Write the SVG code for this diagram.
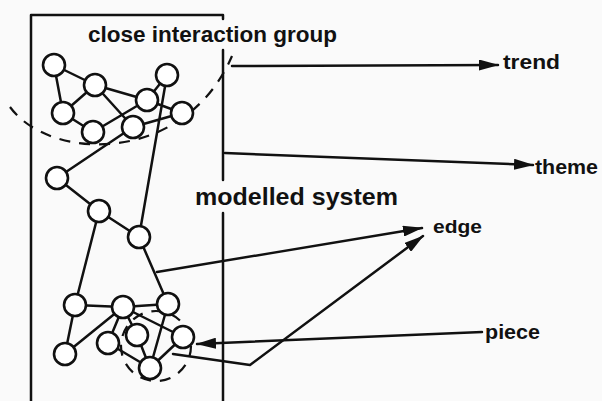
<svg xmlns="http://www.w3.org/2000/svg" width="602" height="401" viewBox="0 0 602 401">
<defs>
<style>
.ln{stroke:#111;stroke-width:2.5;fill:none;stroke-linecap:round;stroke-linejoin:round}
.nd{stroke:#111;stroke-width:2.6;fill:#fff}
.ds{stroke:#111;stroke-width:2.2;fill:none;stroke-dasharray:11 9}
.tx{font-family:"Liberation Sans",Arial,sans-serif;font-weight:bold;fill:#111}
</style>
<marker id="ah" viewBox="0 0 20 11" refX="19" refY="5.5" markerWidth="20" markerHeight="11" markerUnits="userSpaceOnUse" orient="auto">
<path d="M0,0 L20,5.5 L0,11 Z" fill="#111"/>
</marker>
</defs>
<rect width="602" height="401" fill="#fafafa"/>
<g id="frame">
<path class="ln" d="M31,401 V15 H223 V19"/>
<path class="ln" d="M223,50 V180"/>
<path class="ln" d="M223,213 V401"/>
<path class="ds" d="M10,107 C50,162 185,165 232,56"/>
<circle class="ds" cx="156" cy="346" r="35" stroke-dasharray="10 7"/>
</g>
<g id="connectors">
<path class="ln" d="M54,65 L95,85 M54,65 L63,113 M95,85 L63,113 M95,85 L147,100 M95,85 L133,127 M63,113 L93,132 M147,100 L93,132 M167,75 L147,100 M167,75 L139,237 M147,100 L182,113 M133,127 L182,113 M57,178 L133,127"/>
<path class="ln" d="M57,178 L99,211 M99,211 L139,237 M99,211 L75,305 M139,237 L168,304"/>
<path class="ln" d="M75,305 L123,307 M123,307 L168,304 M75,305 L65,354 M65,354 L123,307 M123,307 L108,343 M123,307 L137,335 M123,307 L183,337 M168,304 L150,368 M108,343 L150,368 M137,335 L150,368 M183,337 L150,368"/>
<path class="ln" d="M232,66 L498,65" marker-end="url(#ah)"/>
<path class="ln" d="M225,153 L533,165" marker-end="url(#ah)"/>
<path class="ln" d="M157,272 L422,228" marker-end="url(#ah)"/>
<path class="ln" d="M173,354 L250,365 L423,236" marker-end="url(#ah)"/>
<path class="ln" d="M482,332 L197,344" marker-end="url(#ah)"/>
</g>
<g id="nodeA"><circle class="nd" cx="54" cy="65" r="11"/></g>
<g id="nodeB"><circle class="nd" cx="95" cy="85" r="11"/></g>
<g id="nodeC"><circle class="nd" cx="167" cy="75" r="11"/></g>
<g id="nodeD"><circle class="nd" cx="147" cy="100" r="11"/></g>
<g id="nodeE"><circle class="nd" cx="63" cy="113" r="11"/></g>
<g id="nodeF"><circle class="nd" cx="93" cy="132" r="11"/></g>
<g id="nodeG"><circle class="nd" cx="133" cy="127" r="11"/></g>
<g id="nodeH"><circle class="nd" cx="182" cy="113" r="11"/></g>
<g id="nodeI"><circle class="nd" cx="57" cy="178" r="11"/></g>
<g id="nodeJ"><circle class="nd" cx="99" cy="211" r="11"/></g>
<g id="nodeK"><circle class="nd" cx="139" cy="237" r="11"/></g>
<g id="nodeL"><circle class="nd" cx="75" cy="305" r="11"/></g>
<g id="nodeM"><circle class="nd" cx="123" cy="307" r="11"/></g>
<g id="nodeN"><circle class="nd" cx="168" cy="304" r="11"/></g>
<g id="nodeO"><circle class="nd" cx="65" cy="354" r="11"/></g>
<g id="nodeP"><circle class="nd" cx="108" cy="343" r="11"/></g>
<g id="nodeQ"><circle class="nd" cx="137" cy="335" r="11"/></g>
<g id="nodeR"><circle class="nd" cx="183" cy="337" r="11"/></g>
<g id="nodeS"><circle class="nd" cx="150" cy="368" r="11"/></g>
<g id="labels">
<text class="tx" x="88" y="42" font-size="22" textLength="249" lengthAdjust="spacingAndGlyphs">close interaction group</text>
<text class="tx" x="195" y="205" font-size="24" textLength="203" lengthAdjust="spacingAndGlyphs">modelled system</text>
<text class="tx" x="503" y="69" font-size="20" textLength="57" lengthAdjust="spacingAndGlyphs">trend</text>
<text class="tx" x="535" y="174" font-size="21" textLength="63" lengthAdjust="spacingAndGlyphs">theme</text>
<text class="tx" x="433" y="233" font-size="19" textLength="49" lengthAdjust="spacingAndGlyphs">edge</text>
<text class="tx" x="485" y="339" font-size="20" textLength="55" lengthAdjust="spacingAndGlyphs">piece</text>
</g>
</svg>
